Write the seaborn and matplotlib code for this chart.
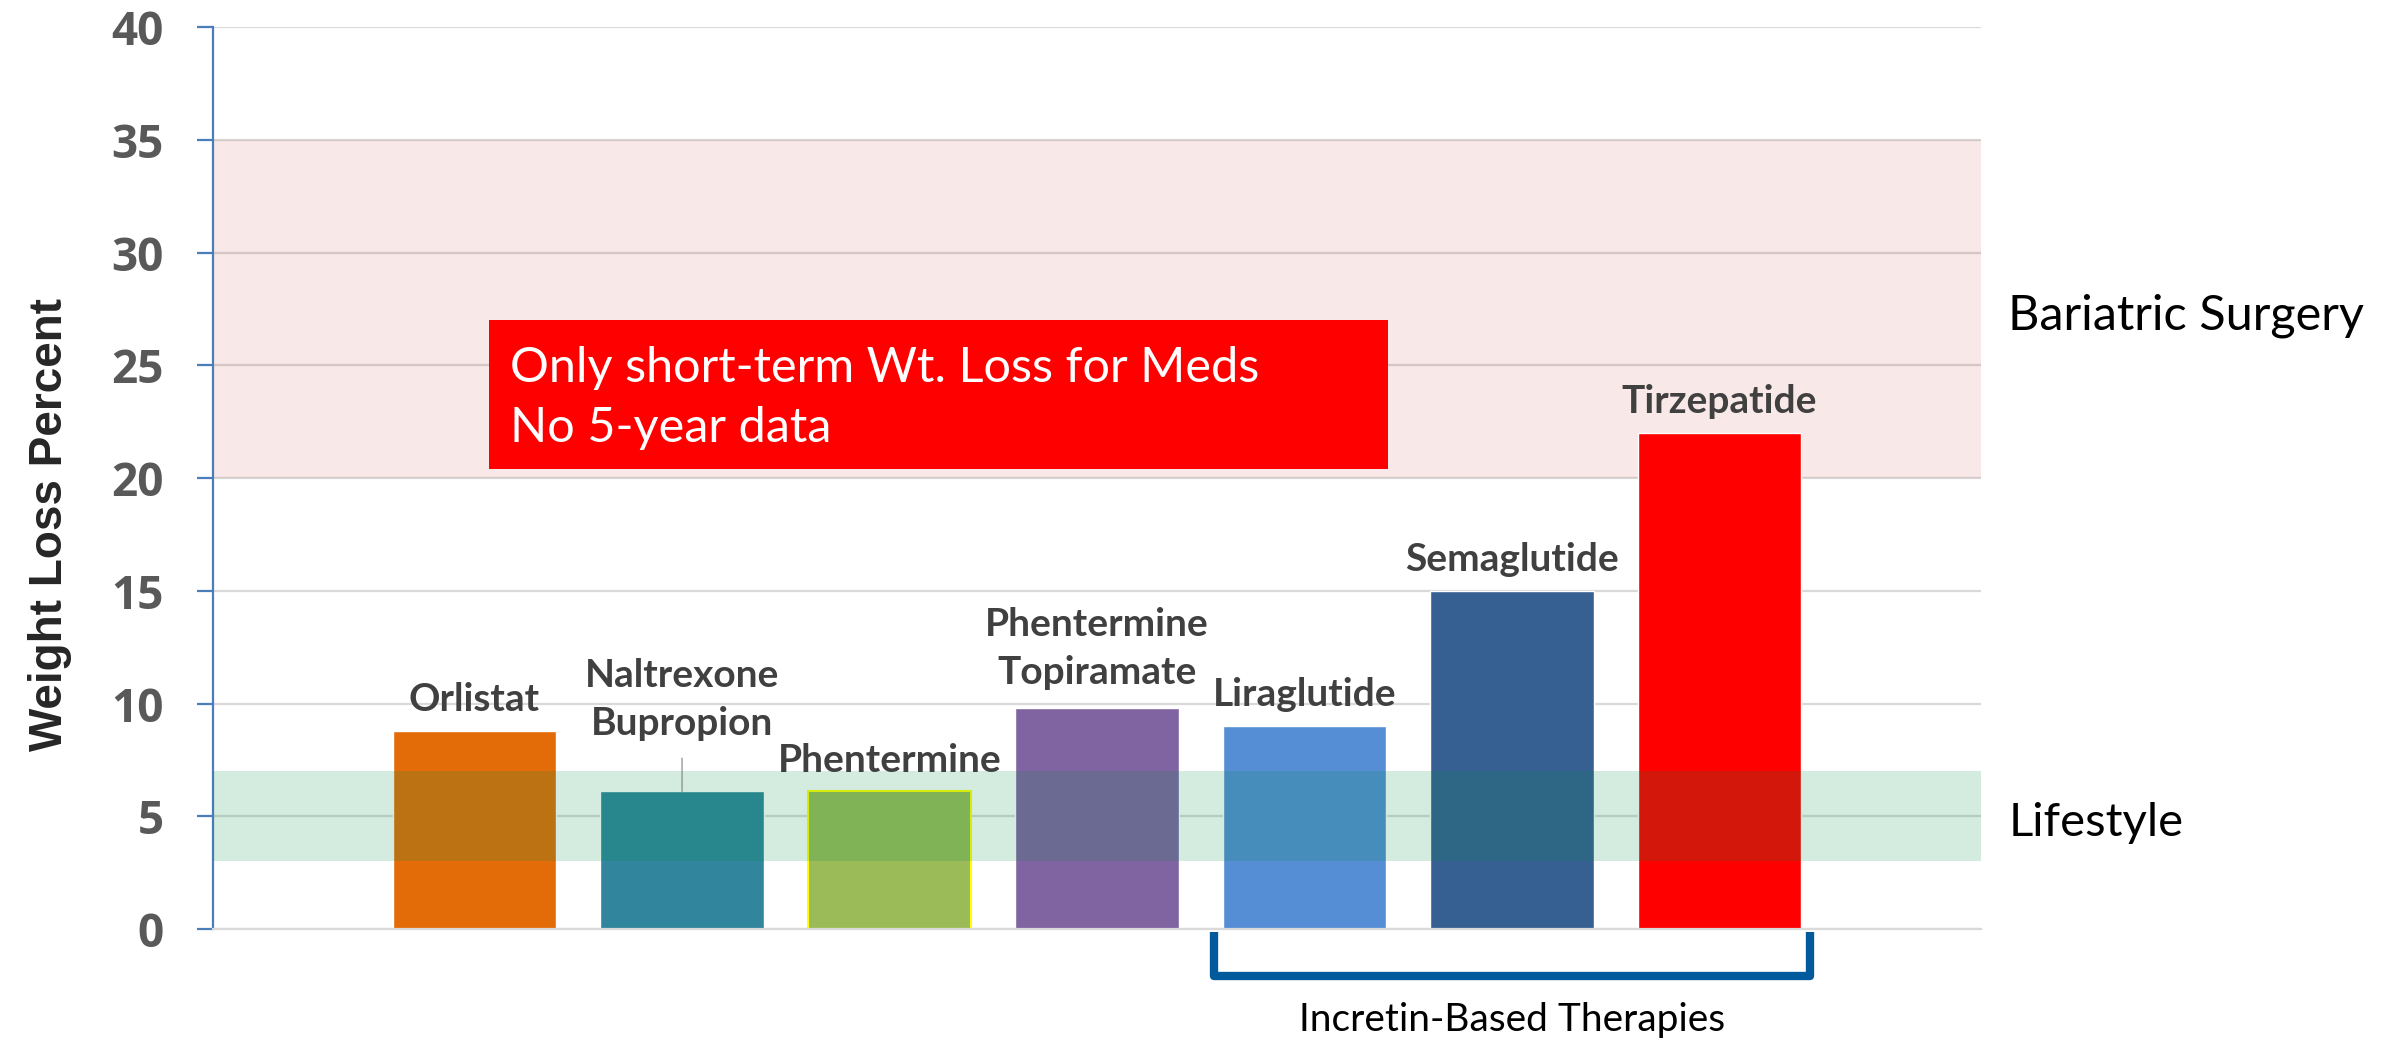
import numpy as np
import pandas as pd
import seaborn as sns
import matplotlib.pyplot as plt
from matplotlib.patches import Rectangle

drugs = ["Orlistat", "Naltrexone\nBupropion", "Phentermine", "Phentermine\nTopiramate",
         "Liraglutide", "Semaglutide", "Tirzepatide"]
loss = [8.8, 6.1, 6.1, 9.8, 9.0, 15.0, 22.0]
bar_colors = ["#E36C09", "#31859C", "#9BBB59", "#8064A2", "#558ED5", "#376092", "#FF0000"]
yticks = [0, 5, 10, 15, 20, 25, 30, 35, 40]
lifestyle_band = (3, 7)
surgery_band = (20, 35)
note_lines = ["Only short-term Wt. Loss for Meds", "No 5-year data"]
incretin = ["Liraglutide", "Semaglutide", "Tirzepatide"]

df = pd.DataFrame({"drug": drugs, "loss": loss})

sns.set_style("white")
plt.rcParams['font.family'] = ['Lato', 'DejaVu Sans']

fig = plt.figure(figsize=(23.89, 10.40), dpi=100)
ax = fig.add_axes([0.0892, 0.1067, 0.740, 0.8673])

sns.barplot(ax=ax, data=df, x="drug", y="loss", hue="drug", palette=bar_colors,
            width=0.786, legend=False, saturation=1, zorder=2)

# phentermine bar has a yellow outline in the original
for cont in ax.containers:
    for p in cont:
        if abs(p.get_x() + p.get_width() / 2 - 2) < 0.1:
            p.set_edgecolor("#FFFF00")
            p.set_linewidth(1.5)

ax.set_xlim(-1.26, 7.26)
ax.set_ylim(0, 40)
ax.set_yticks(yticks)
ax.set_xticks([])
ax.set_xlabel("")
ax.set_ylabel("Weight Loss Percent", fontsize=33, fontweight="bold",
              family=["Liberation Sans", "DejaVu Sans"])
ax.yaxis.set_label_coords(-0.08, 0.448)
ax.yaxis.grid(True, color="#D9D9D9", lw=1.6, zorder=0)
ax.set_axisbelow(True)
for lab in ax.get_yticklabels():
    lab.set_fontweight("bold")
    lab.set_fontsize(33)
    lab.set_color("#595959")
    lab.set_family(["Open Sans", "DejaVu Sans"])
ax.tick_params(axis="y", left=True, direction="out", length=11.5, width=1.6,
               color="#4A7EBB", pad=24)
for s in ["top", "right"]:
    ax.spines[s].set_visible(False)
ax.spines["left"].set_color("#4A7EBB")
ax.spines["left"].set_linewidth(1.6)
ax.spines["bottom"].set_color("#D9D9D9")
ax.spines["bottom"].set_linewidth(1.6)

# bands
ax.axhspan(*surgery_band, color=(0.75, 0.0, 0.0), alpha=0.09, lw=0, zorder=1)
ax.axhspan(*lifestyle_band, color=(0.0, 0.55, 0.27), alpha=0.17, lw=0, zorder=3)

# bar labels
for i, (name, v) in enumerate(zip(drugs, loss)):
    if name.startswith("Naltrexone"):
        off = 36
    elif "\n" in name:
        off = 13
    else:
        off = 10
    ax.annotate(name, xy=(i, v), xytext=(0, off), textcoords="offset points",
                ha="center", va="bottom", fontsize=28, fontweight="bold",
                color="#404040", linespacing=1.45, zorder=5)
    if name.startswith("Naltrexone"):
        ax.annotate("", xy=(i, v), xytext=(0, 24), textcoords="offset points",
                    arrowprops=dict(arrowstyle="-", color="#7F7F7F", lw=0.8,
                                    shrinkA=0, shrinkB=0))

# red note box
ax.add_patch(Rectangle((0.07, 20.4), 4.33, 6.6, facecolor="#FF0000", edgecolor="none", zorder=4))
ax.text(0.17, 24.9, note_lines[0], color="white", fontsize=35, va="center", ha="left", zorder=5)
ax.text(0.17, 22.2, note_lines[1], color="white", fontsize=35, va="center", ha="left", zorder=5)

# right side labels
ax.text(1.0155, np.mean(surgery_band) - 0.3, "Bariatric Surgery", transform=ax.get_yaxis_transform(),
        fontsize=35, va="center", ha="left", color="black")
ax.text(1.0155, np.mean(lifestyle_band) - 0.3, "Lifestyle", transform=ax.get_yaxis_transform(),
        fontsize=34, va="center", ha="left", color="black")

# bracket under incretin therapies
i0 = drugs.index(incretin[0]) - 0.435
i1 = drugs.index(incretin[-1]) + 0.435
ax.plot([i0, i0, i1, i1], [-0.15, -2.1, -2.1, -0.15], color="#005A9C", lw=6,
        solid_joinstyle="round", solid_capstyle="butt", clip_on=False, zorder=5)
ax.text((i0 + i1) / 2, -4.05, "Incretin-Based Therapies", fontsize=28,
        ha="center", va="center", color="black", clip_on=False)

fig.savefig("out.png", dpi=100)
